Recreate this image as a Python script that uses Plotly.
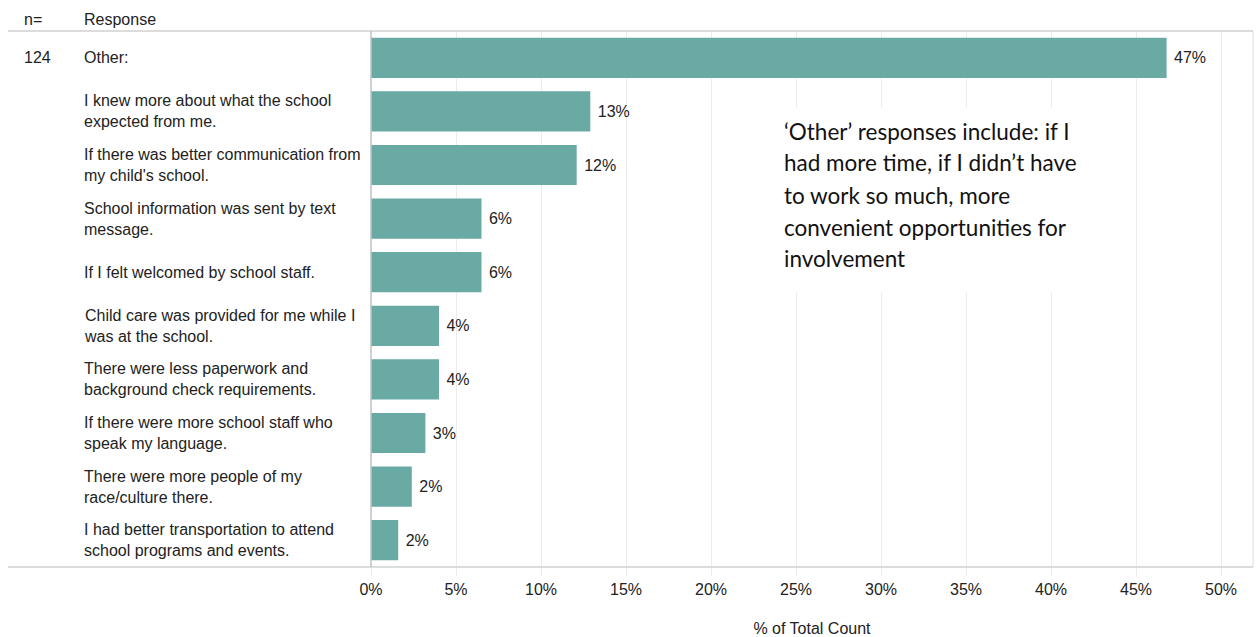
import plotly.graph_objects as go

responses = [
    "Other:",
    "I knew more about what the school<br>expected from me.",
    "If there was better communication from<br>my child's school.",
    "School information was sent by text<br>message.",
    "If I felt welcomed by school staff.",
    "Child care was provided for me while I<br>was at the school.",
    "There were less paperwork and<br>background check requirements.",
    "If there were more school staff who<br>speak my language.",
    "There were more people of my<br>race/culture there.",
    "I had better transportation to attend<br>school programs and events.",
]
pct = [46.8, 12.9, 12.1, 6.5, 6.5, 4.0, 4.0, 3.2, 2.4, 1.6]
pct_labels = ["47%", "13%", "12%", "6%", "6%", "4%", "4%", "3%", "2%", "2%"]
n_total = "124"
tick_vals = [0, 5, 10, 15, 20, 25, 30, 35, 40, 45, 50]
tick_text = ["0%", "5%", "10%", "15%", "20%", "25%", "30%", "35%", "40%", "45%", "50%"]
note_lines = [
    "‘Other’ responses include: if I",
    "had more time, if I didn’t have",
    "to work so much, more",
    "convenient opportunities for",
    "involvement",
]

W, H = 1259, 637
L, R, T, B = 371, 1253, 31, 567
pw, ph = R - L, B - T

def px(x):
    return (x - L) / pw

def py(y):
    return 1 - (y - T) / ph

FONT = "Arial, Liberation Sans, sans-serif"
TXT = "#222222"
FS = 16

ycats = list(range(len(responses)))

fig = go.Figure()
fig.add_trace(go.Bar(
    x=pct, y=ycats, orientation="h",
    marker=dict(color="#69aaa5", line=dict(width=0)),
    text=pct_labels, texttemplate=" %{text}", textposition="outside",
    textfont=dict(family=FONT, size=FS, color=TXT),
    cliponaxis=False, hoverinfo="skip",
))

annotations = []
for i, r in enumerate(responses):
    annotations.append(dict(
        x=px(82), xref="paper", y=i, yref="y", text=r, showarrow=False,
        xanchor="left", yanchor="middle", align="left",
        font=dict(family=FONT, size=FS, color=TXT),
    ))
annotations.append(dict(
    x=px(22), xref="paper", y=0, yref="y", text=n_total, showarrow=False,
    xanchor="left", yanchor="middle", font=dict(family=FONT, size=FS, color=TXT),
))
annotations.append(dict(
    x=px(22), xref="paper", y=py(19), yref="paper", text="n=", showarrow=False,
    xanchor="left", yanchor="middle", font=dict(family=FONT, size=FS, color=TXT),
))
annotations.append(dict(
    x=px(82), xref="paper", y=py(19), yref="paper", text="Response", showarrow=False,
    xanchor="left", yanchor="middle", font=dict(family=FONT, size=FS, color=TXT),
))
for line, yy in zip(note_lines, [131, 163, 195, 227, 258]):
    annotations.append(dict(
        x=px(782), xref="paper", y=py(yy), yref="paper", text=line, showarrow=False,
        xanchor="left", yanchor="middle", align="left",
        font=dict(family="Lato, Open Sans, sans-serif", size=22.5, color="#111111"),
    ))

shapes = [
    dict(type="rect", xref="paper", yref="paper", x0=px(770), x1=px(1100),
         y0=py(292), y1=py(108), fillcolor="white", line=dict(width=0), layer="above"),
    dict(type="line", xref="paper", yref="paper", x0=px(8), x1=1, y0=1, y1=1,
         line=dict(color="#d0d0d0", width=1.5)),
    dict(type="line", xref="paper", yref="paper", x0=px(8), x1=1, y0=0, y1=0,
         line=dict(color="#d0d0d0", width=1.5)),
    dict(type="line", xref="paper", yref="paper", x0=0, x1=0, y0=0, y1=1,
         line=dict(color="#c0c0c0", width=1.5)),
    dict(type="line", xref="paper", yref="paper", x0=1, x1=1, y0=0, y1=1,
         line=dict(color="#dcdcdc", width=1)),
]

fig.update_layout(
    width=W, height=H,
    margin=dict(l=L, r=W - R, t=T, b=H - B),
    plot_bgcolor="white", paper_bgcolor="white",
    showlegend=False, bargap=0.25,
    annotations=annotations, shapes=shapes,
    xaxis=dict(
        range=[0, pw / 17.0], tickvals=tick_vals, ticktext=tick_text,
        showgrid=True, gridcolor="#ececec", gridwidth=1, zeroline=False,
        ticks="outside", ticklen=8, tickcolor="#ececec",
        tickfont=dict(family=FONT, size=FS, color=TXT),
        title=dict(text="% of Total Count", font=dict(family=FONT, size=FS, color=TXT), standoff=26),
        fixedrange=True, automargin=False,
    ),
    yaxis=dict(
        range=[len(responses) - 0.5, -0.5], showticklabels=False, showgrid=False,
        zeroline=False, ticks="", fixedrange=True,
    ),
)

fig.write_html("out.html")
